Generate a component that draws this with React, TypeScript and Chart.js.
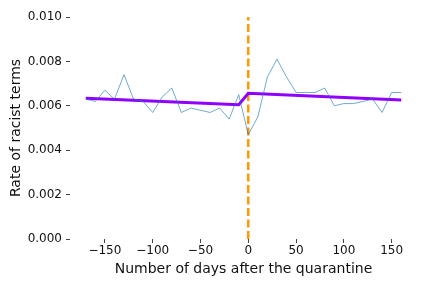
import React, { useEffect, useRef } from "react";
import { Chart, registerables } from "chart.js";

Chart.register(...registerables);

const days = [-170, -160, -150, -140, -130, -120, -110, -100, -90, -80, -70, -60, -50, -40, -30, -20, -10,
  0, 10, 20, 30, 40, 50, 60, 70, 80, 90, 100, 110, 120, 130, 140, 150, 160];
const rates = [0.0063, 0.0062, 0.0067, 0.0063, 0.0074, 0.0063, 0.0062, 0.0057, 0.0064, 0.0068, 0.0057, 0.0059, 0.0058, 0.0057, 0.0059, 0.0054, 0.0065,
  0.0047, 0.0055, 0.0073, 0.0081, 0.0073, 0.0066, 0.0066, 0.0066, 0.0068, 0.0060, 0.0061, 0.0061, 0.0062, 0.0063, 0.0057, 0.0066, 0.0066];
const fitDays = [-170, -10, 0, 160];
const fitRates = [0.00634, 0.00605, 0.00656, 0.00626];
const cutoffDays = [0, 0];
const cutoffRates = [0, 0.010];
const xTicks = [-150, -100, -50, 0, 50, 100, 150];

const FONT = "'DejaVu Sans', sans-serif";

export default function App() {
  const ref = useRef<HTMLCanvasElement | null>(null);
  useEffect(() => {
    document.body.style.margin = "0";
    const ctx = ref.current!;
    const chart = new Chart(ctx, {
      type: "line",
      data: {
        datasets: [
          {
            data: days.map((d, i) => ({ x: d, y: rates[i] })),
            borderColor: "rgba(31,119,180,0.7)",
            borderWidth: 0.9,
            pointRadius: 0,
            tension: 0,
          },
          {
            data: fitDays.map((d, i) => ({ x: d, y: fitRates[i] })),
            borderColor: "#8f00ff",
            borderWidth: 3,
            pointRadius: 0,
            tension: 0,
          },
          {
            data: cutoffDays.map((d, i) => ({ x: d, y: cutoffRates[i] })),
            borderColor: "#ff9900",
            borderWidth: 2.5,
            borderDash: [8, 3.5],
            pointRadius: 0,
          },
        ],
      },
      options: {
        responsive: false,
        animation: false,
        plugins: { legend: { display: false }, tooltip: { enabled: false } },
        layout: { padding: { top: 17, right: 15, left: 0, bottom: 0 } },
        scales: {
          x: {
            type: "linear",
            min: -186.5,
            max: 176.5,
            afterFit: (s: any) => { s.height = 49; },
            afterBuildTicks: (s: any) => { s.ticks = xTicks.map((v) => ({ value: v })); },
            border: { display: false },
            grid: { drawOnChartArea: false, drawTicks: true, tickLength: 4, color: "#444" },
            ticks: {
              color: "#111",
              font: { family: FONT, size: 12 },
              padding: 1,
              maxRotation: 0,
              callback: (v: any) => (Number(v) < 0 ? "\u2212" + Math.abs(Number(v)) : String(v)),
            },
            title: {
              display: true,
              text: "Number of days after the quarantine",
              color: "#111",
              font: { family: FONT, size: 14 },
              padding: { top: 0, bottom: 10 },
            },
          },
          y: {
            type: "linear",
            min: 0,
            max: 0.010,
            afterFit: (s: any) => { s.width = 70; },
            border: { display: false },
            grid: { drawOnChartArea: false, drawTicks: true, tickLength: 4, color: "#444" },
            ticks: {
              stepSize: 0.002,
              color: "#111",
              font: { family: FONT, size: 12 },
              padding: 4,
              callback: (v: any) => Number(v).toFixed(3),
            },
            title: {
              display: true,
              text: "Rate of racist terms",
              color: "#111",
              font: { family: FONT, size: 14 },
              padding: { top: 8, bottom: 0 },
            },
          },
        },
      },
    });
    return () => chart.destroy();
  }, []);
  return (
    <div style={{ position: "fixed", left: 0, top: 0, width: 432, height: 288, background: "#fff" }}>
      <canvas ref={ref} width={432} height={288} />
    </div>
  );
}
